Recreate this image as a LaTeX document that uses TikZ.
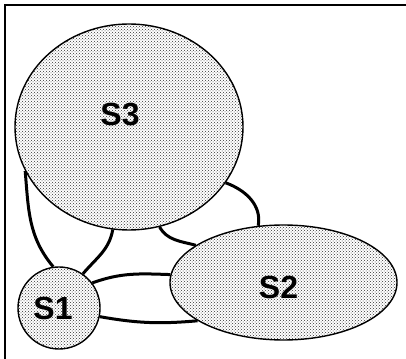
\documentclass[tikz,border=0pt]{standalone}
\usepackage{fontspec}
\setmainfont{Liberation Sans}
\usetikzlibrary{shapes.geometric,patterns,backgrounds}

\begin{document}
\begin{tikzpicture}[x=1pt, y=1pt, font=\fontsize{32}{38}\selectfont\bfseries, region/.style={ellipse, draw, line width=1.4pt, inner sep=0pt, preaction={fill=white}, pattern=crosshatch dots, pattern color=black!80}, link/.style={line width=3pt}, frame/.style={line width=1.6pt}]
\useasboundingbox (0,0) rectangle (406,358);
\draw[frame] (5,-10) -- (5,353) -- (420,353);
\node[region, minimum width=228pt, minimum height=206pt, label={[xshift=-9pt, yshift=12pt]center:S3}] (S3) at (129,231) {};
\node[region, minimum width=227pt, minimum height=115pt, label={[xshift=-5pt, yshift=-5pt]center:S2}] (S2) at (283.5,75.5) {};
\node[region, circle, minimum size=82pt, label={[xshift=-6pt]center:S1}] (S1) at (59,50) {};
\begin{scope}[on background layer]
% S1 -- S3
\draw[link] (S1.98) to[out=130, in=-85] (S3.203);
\draw[link] (S1.55) to[out=50, in=-100] (S3.261);
% S3 -- S2
\draw[link] (S3.-30) to[out=-20, in=80] (S2.114);
\draw[link] (S3.287) to[out=-60, in=165] (S2.157);
% S1 -- S2
\draw[link] (S1.37) to[out=20, in=178] (S2.176);
\draw[link] (S1.-12) to[out=-10, in=185] (S2.204);
\end{scope}
\end{tikzpicture}
\end{document}
